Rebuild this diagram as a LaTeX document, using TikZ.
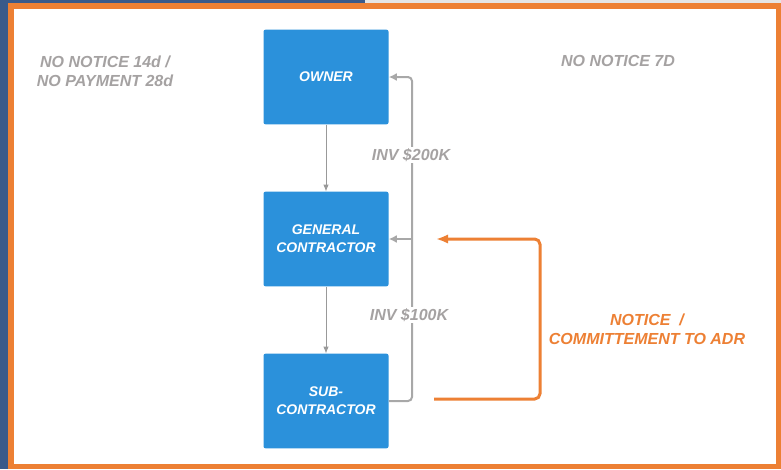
\documentclass[tikz,border=0pt]{standalone}
\usepackage{fontspec}
\setmainfont{Liberation Sans}
\usetikzlibrary{arrows.meta,positioning,calc}
\definecolor{frameblue}{RGB}{58,90,138}
\definecolor{frameorange}{RGB}{237,128,52}
\definecolor{boxblue}{RGB}{43,145,219}
\definecolor{invgrey}{RGB}{168,168,168}
\definecolor{labelgrey}{RGB}{165,162,162}

\begin{document}
\begin{tikzpicture}[x=0.75pt, y=-0.75pt,
  party/.style={fill=boxblue, draw=none, rounded corners=1.5pt, minimum width=93.75pt, minimum height=71pt, text=white, align=center, font=\bfseries\itshape\fontsize{10.5}{13.5}\selectfont},
  note/.style={text=labelgrey, align=center, font=\bfseries\itshape\fontsize{12}{14.5}\selectfont},
  flow/.style={draw=gray!80, line width=0.6pt, -{Latex[length=5pt,width=4pt]}},
  invline/.style={draw=invgrey, line width=1.5pt, rounded corners=3pt, -{Latex[length=6pt,width=6pt]}},
  adrline/.style={draw=frameorange, line width=2.25pt, rounded corners=4pt, -{Latex[length=9pt,width=7pt]}}]
\def \colx {326}
\def \busx {412}

\useasboundingbox (0,0) rectangle (781,469);

%Frame
\fill[white] (0,0) rectangle (781,469);
\fill[gray!20] (365,0) rectangle (781,3);
\fill[frameorange] (8,3) rectangle (781,469);
\fill[white] (14,9) rectangle (776,464);
\fill[frameblue] (0,0) rectangle (8,469);
\fill[frameblue] (0,0) rectangle (365,3);

%Parties
\node[party] (owner) at (\colx,77) {OWNER};
\node[party] (gc) at (\colx,239) {GENERAL\\CONTRACTOR};
\node[party] (sub) at (\colx,401) {SUB-\\CONTRACTOR};

%Contract chain
\draw[flow] (owner) -- (gc);
\draw[flow] (gc) -- (sub);

%Invoices going up
\coordinate (bus) at (\busx,401);
\draw[invline] (sub.east) -- (bus) |- (owner.east);
\draw[invline] (gc.east -| bus) -- (gc.east);
\node[note, fill=white, inner sep=1pt] (inv200) at (411,155) {INV \$200K};
\node[note, fill=white, inner sep=1pt] (inv100) at (409,315) {INV \$100K};

%Notice / ADR loop
\coordinate (adrfrom) at (434,399);
\coordinate (adrto) at (436,239);
\draw[adrline] (adrfrom) -- ++(106,0) |- (adrto);

%Time bars
\node[note] (late) at (105,71) {NO NOTICE 14d /\\NO PAYMENT 28d};
\node[note] (week) at (618,61) {NO NOTICE 7D};
\node[note, text=frameorange] (adr) at (647,329) {NOTICE~~/\\COMMITTEMENT TO ADR};

\end{tikzpicture}
\end{document}
